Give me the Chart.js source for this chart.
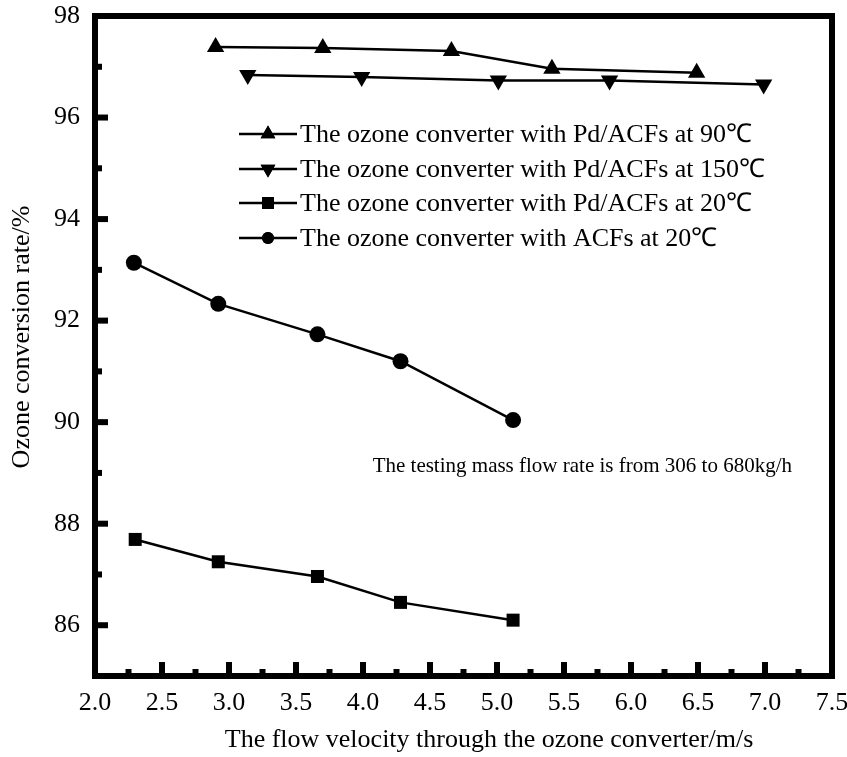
<!DOCTYPE html>
<html>
<head>
<meta charset="utf-8">
<script src="https://cdn.jsdelivr.net/npm/chart.js@4.4.1/dist/chart.umd.min.js"></script>
<style>
  html, body { margin: 0; padding: 0; background: #fff; }
  #wrap { width: 847px; height: 757px; }
</style>
</head>
<body>
<div id="wrap"><canvas id="myChart" width="847" height="757"></canvas></div>
<script>
// values
const labels = [
  "The ozone converter with Pd/ACFs at 90\u2103",
  "The ozone converter with Pd/ACFs at 150\u2103",
  "The ozone converter with Pd/ACFs at 20\u2103",
  "The ozone converter with ACFs at 20\u2103"
]
const x90 = [2.90, 3.70, 4.66, 5.41, 6.49]
const y90 = [97.39, 97.37, 97.31, 96.96, 96.88]
const x150 = [3.14, 3.99, 5.01, 5.84, 6.99]
const y150 = [96.84, 96.80, 96.73, 96.73, 96.65]
const xPd20 = [2.30, 2.92, 3.66, 4.28, 5.12]
const yPd20 = [87.69, 87.25, 86.96, 86.45, 86.10]
const xAcf20 = [2.29, 2.92, 3.66, 4.28, 5.12]
const yAcf20 = [93.14, 92.33, 91.73, 91.20, 90.04]
const xTicks = [2.0, 2.5, 3.0, 3.5, 4.0, 4.5, 5.0, 5.5, 6.0, 6.5, 7.0, 7.5]
const xMinor = [2.25, 2.75, 3.25, 3.75, 4.25, 4.75, 5.25, 5.75, 6.25, 6.75, 7.25]
const yTicks = [86, 88, 90, 92, 94, 96, 98]
const yMinor = [87, 89, 91, 93, 95, 97]
const note = "The testing mass flow rate is from 306 to 680kg/h"
const xTitle = "The flow velocity through the ozone converter/m/s"
const yTitle = "Ozone conversion rate/%"

const FONT = "'Liberation Serif', 'Times New Roman', serif"

function pts(xs, ys) {
  return xs.map(function(x, i) { return {x: x, y: ys[i]} })
}

// marker styles
const styles = [
  {pointStyle: 'triangle', rotation: 0, radius: 10, legendRadius: 8.5},
  {pointStyle: 'triangle', rotation: 180, radius: 10, legendRadius: 8.5},
  {pointStyle: 'rect', rotation: 0, radius: 9.2, legendRadius: 8.5},
  {pointStyle: 'circle', rotation: 0, radius: 8, legendRadius: 6}
]
const series = [pts(x90, y90), pts(x150, y150), pts(xPd20, yPd20), pts(xAcf20, yAcf20)]

const datasets = series.map(function(d, i) {
  return {
    label: labels[i],
    data: d,
    showLine: true,
    borderColor: '#000',
    backgroundColor: '#000',
    borderWidth: 2.5,
    pointStyle: styles[i].pointStyle,
    rotation: styles[i].rotation,
    pointRadius: styles[i].radius,
    pointBorderWidth: 0,
    pointBackgroundColor: '#000',
    tension: 0
  }
})

// no extra room for overflowing tick labels, the layout padding handles it
function noPad(scale) {
  scale.paddingTop = 0
  scale.paddingBottom = 0
  scale.paddingLeft = 0
  scale.paddingRight = 0
}

// frame, inward ticks, legend and texts
const decor = {
  id: 'decor',
  afterDraw: function(chart) {
    const ctx = chart.ctx
    const a = chart.chartArea
    const xs = chart.scales.x
    const ys = chart.scales.y
    ctx.save()
    ctx.fillStyle = '#000'
    // x ticks (inward from bottom)
    xTicks.forEach(function(v) {
      if (v <= 2.0 || v >= 7.5) return
      const px = xs.getPixelForValue(v)
      ctx.fillRect(px - 3, a.bottom - 14, 6, 14)
    })
    xMinor.forEach(function(v) {
      const px = xs.getPixelForValue(v)
      ctx.fillRect(px - 3, a.bottom - 7, 6, 7)
    })
    // y ticks (inward from left)
    yTicks.forEach(function(v) {
      if (v >= 98) return
      const py = ys.getPixelForValue(v)
      ctx.fillRect(a.left, py - 3, 13, 6)
    })
    yMinor.forEach(function(v) {
      const py = ys.getPixelForValue(v)
      ctx.fillRect(a.left, py - 3, 7, 6)
    })
    // thick frame
    ctx.strokeStyle = '#000'
    ctx.lineWidth = 6
    ctx.strokeRect(a.left, a.top, a.right - a.left, a.bottom - a.top)

    // legend
    ctx.font = '26px ' + FONT
    ctx.textBaseline = 'middle'
    ctx.textAlign = 'left'
    const rowY = [134, 169, 203, 238]
    labels.forEach(function(t, i) {
      const y = rowY[i]
      ctx.lineWidth = 2.5
      ctx.beginPath()
      ctx.moveTo(239, y)
      ctx.lineTo(297, y)
      ctx.stroke()
      Chart.helpers.drawPoint(ctx, {
        pointStyle: styles[i].pointStyle,
        rotation: styles[i].rotation,
        radius: styles[i].legendRadius,
        borderWidth: 0
      }, 268, y)
      ctx.fill()
      ctx.fillText(t, 300, y + 1)
    })

    // axis titles
    ctx.textAlign = 'center'
    ctx.fillText(xTitle, 489, 740)
    ctx.save()
    ctx.translate(22, 337)
    ctx.rotate(-Math.PI / 2)
    ctx.fillText(yTitle, 0, 0)
    ctx.restore()

    // note
    ctx.font = '21px ' + FONT
    ctx.textAlign = 'right'
    ctx.fillText(note, 792, 466)
    ctx.restore()
  }
}

var ctx = document.getElementById('myChart')
var myChart = new Chart(ctx, {
  type: 'scatter',
  data: { datasets: datasets },
  options: {
    responsive: false,
    animation: false,
    layout: { padding: { top: 16, right: 15, left: 0, bottom: 0 } },
    plugins: { legend: { display: false }, tooltip: { enabled: false } },
    scales: {
      x: {
        type: 'linear',
        min: 2.0,
        max: 7.5,
        afterBuildTicks: function(scale) {
          scale.ticks = xTicks.map(function(v) { return {value: v} })
        },
        afterFit: function(scale) { scale.height = 81; noPad(scale) },
        grid: { display: false, drawTicks: false },
        border: { display: false },
        ticks: {
          color: '#000',
          padding: 12,
          font: { family: FONT, size: 26 },
          callback: function(v) { return Number(v).toFixed(1) }
        }
      },
      y: {
        type: 'linear',
        min: 85,
        max: 98,
        afterBuildTicks: function(scale) {
          scale.ticks = yTicks.map(function(v) { return {value: v} })
        },
        afterFit: function(scale) { scale.width = 95; noPad(scale) },
        grid: { display: false, drawTicks: false },
        border: { display: false },
        ticks: {
          color: '#000',
          padding: 15,
          font: { family: FONT, size: 26 },
          callback: function(v) { return v }
        }
      }
    }
  },
  plugins: [decor]
})
</script>
</body>
</html>
